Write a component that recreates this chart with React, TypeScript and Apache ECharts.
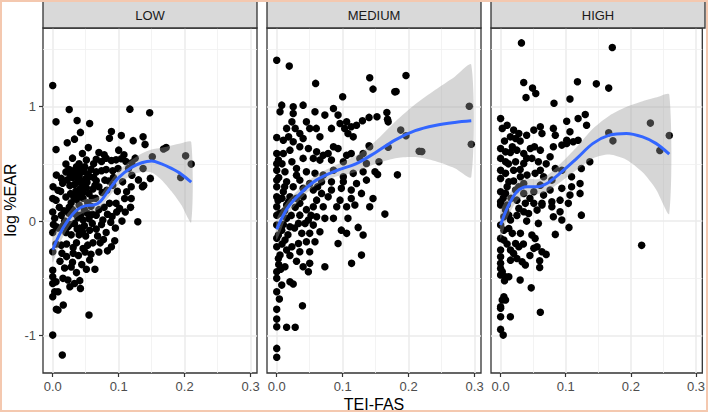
import React, { useEffect, useRef } from "react";
import * as echarts from "echarts";

const panelNames = ["LOW", "MEDIUM", "HIGH"];
const xTicks = [0, 0.1, 0.2, 0.3];
const xMinor = [0.05, 0.15, 0.25];
const yTicks = [-1, 0, 1];
const yMinor = [-0.5, 0.5, 1.5];
const xRange = [-0.01475, 0.30975];
const yRange = [-1.327, 1.687];

const lowPoints: number[][] = [
  [0.000, 1.185], [0.025, 0.975], [0.005, 0.867], [0.037, 0.879], [0.056, 0.853], [0.117, 0.978], [0.147, 0.946],
  [0.042, 0.775], [0.033, 0.716], [0.022, 0.684], [0.054, 0.642], [0.005, 0.625], [0.089, 0.782], [0.086, 0.724],
  [0.104, 0.747], [0.122, 0.703], [0.137, 0.736], [0.140, 0.670], [0.045, 0.591], [0.168, 0.630], [0.172, 0.642],
  [0.151, 0.562], [0.2015, 0.570], [0.210, 0.498], [0.194, 0.381], [0.148, 0.373], [0.138, 0.312], [0.137, 0.460],
  [0.020, 0.498], [0.051, 0.533], [0.066, 0.540], [0.074, 0.520], [0.081, 0.550], [0.089, 0.530], [0.096, 0.535],
  [0.104, 0.545], [0.111, 0.520], [0.120, 0.510], [0.0485, 0.474], [0.036, 0.474], [0.0055, 0.402], [0.013, 0.373],
  [0.034, 0.410], [0.040, 0.390], [0.044, 0.430], [0.047, 0.440], [0.053, 0.410], [0.066, 0.430], [0.074, 0.440],
  [0.081, 0.450], [0.091, 0.440], [0.099, 0.460], [0.066, 0.352], [0.079, 0.358], [0.0005, 0.300], [0.008, 0.270],
  [0.026, 0.310], [0.033, 0.320], [0.041, 0.280], [0.046, 0.250], [0.051, 0.290], [0.061, 0.280], [0.091, 0.314],
  [0.106, 0.343], [0.119, 0.300], [0.112, 0.256], [0.136, 0.300], [0.000, 0.198], [0.005, 0.183], [0.020, 0.210],
  [0.028, 0.160], [0.036, 0.190], [0.046, 0.200], [0.053, 0.160], [0.109, 0.198], [0.119, 0.198], [0.086, 0.155],
  [0.096, 0.155], [0.1015, 0.111], [0.003, 0.024], [0.013, 0.052], [0.038, 0.030], [0.046, 0.010], [0.055, 0.020],
  [0.066, 0.052], [0.076, 0.009], [0.129, -0.006], [0.0055, -0.050], [0.001, -0.030], [0.008, -0.060], [0.016, -0.040],
  [0.026, -0.030], [0.033, -0.020], [0.041, -0.060], [0.048, -0.040], [0.056, -0.080], [0.066, -0.070], [0.074, -0.030],
  [0.081, -0.100], [0.088, -0.010], [0.094, -0.172], [0.089, -0.224], [0.013, -0.210], [0.021, -0.200], [0.031, -0.230],
  [0.036, -0.190], [0.046, -0.240], [0.053, -0.210], [0.061, -0.190], [0.072, -0.190], [0.000, -0.268], [0.014, -0.280],
  [0.021, -0.310], [0.031, -0.280], [0.039, -0.300], [0.049, -0.270], [0.056, -0.340], [0.000, -0.430], [0.000, -0.486],
  [0.018, -0.410], [0.028, -0.400], [0.036, -0.450], [0.051, -0.420], [0.064, -0.420], [0.000, -0.545], [0.005, -0.530],
  [0.0155, -0.500], [0.023, -0.515], [0.026, -0.574], [0.033, -0.545], [0.041, -0.520], [0.042, -0.588], [0.003, -0.617],
  [0.008, -0.617], [0.000, -0.660], [0.008, -0.777], [0.016, -0.733], [0.0055, -0.770], [0.055, -0.820], [0.000, -0.996],
  [0.0145, -1.170], [0.025, 0.45], [0.030, 0.38], [0.038, 0.35], [0.043, 0.33], [0.050, 0.37], [0.058, 0.45],
  [0.062, 0.38], [0.070, 0.30], [0.075, 0.25], [0.082, 0.27], [0.085, 0.35], [0.092, 0.38], [0.098, 0.26],
  [0.027, 0.24], [0.035, 0.26], [0.040, 0.14], [0.048, 0.10], [0.058, 0.13], [0.065, 0.20], [0.070, 0.10],
  [0.078, 0.12], [0.083, 0.06], [0.090, 0.04], [0.097, 0.08], [0.010, 0.12], [0.017, 0.09], [0.024, 0.07],
  [0.030, 0.10], [0.060, -0.02], [0.068, -0.13], [0.077, -0.16], [0.083, -0.26], [0.020, -0.10], [0.028, -0.12],
  [0.040, -0.12], [0.050, -0.13], [0.030, -0.36], [0.044, -0.38], [0.058, -0.29], [0.070, -0.27], [0.011, -0.35],
  [0.005, -0.20], [0.000, -0.10], [0.000, 0.08], [0.012, 0.26], [0.015, 0.33], [0.020, 0.43], [0.030, 0.55],
  [0.040, 0.50], [0.062, 0.50], [0.070, 0.60], [0.078, 0.58], [0.100, 0.62], [0.108, 0.58], [0.115, 0.46],
  [0.120, 0.40], [0.125, 0.55], [0.130, 0.36], [0.110, 0.08], [0.105, 0.00], [0.118, 0.12], [0.095, -0.06],
  [0.022, 0.36], [0.027, 0.40], [0.031, 0.44], [0.036, 0.42], [0.039, 0.36], [0.042, 0.46], [0.047, 0.35],
  [0.052, 0.34], [0.056, 0.39], [0.043, 0.22], [0.048, 0.29], [0.038, 0.24], [0.032, 0.21], [0.025, 0.12],
  [0.035, 0.06], [0.042, 0.05], [0.052, 0.07], [0.060, 0.06], [0.045, -0.09], [0.037, -0.07], [0.023, -0.05],
  [0.018, 0.00], [0.055, 0.24], [0.060, 0.20], [0.064, 0.31],
];

const mediumPoints: number[][] = [
  [0.000, 1.406], [0.019, 1.354], [0.059, 1.203], [0.141, 1.252], [0.146, 1.153], [0.179, 1.129], [0.100, 1.086],
  [0.196, 1.272], [0.181, 1.133], [0.292, 1.004], [0.295, 0.672], [0.216, 0.611], [0.220, 0.608], [0.188, 0.795],
  [0.196, 0.745], [0.169, 0.646], [0.183, 0.404], [0.153, 0.408], [0.140, 0.658], [0.155, 0.518], [0.167, 0.949],
  [0.168, 0.890], [0.152, 0.911], [0.140, 0.906], [0.130, 0.876],
  [0.0076, 1.013], [0.005, 0.955], [0.025, 0.998], [0.025, 0.940], [0.040, 1.013], [0.058, 0.955], [0.073, 0.926],
  [0.086, 0.984], [0.093, 0.926], [0.106, 0.867], [0.096, 0.853],
  [0.023, 0.867], [0.045, 0.867], [0.050, 0.810], [0.060, 0.810], [0.028, 0.810], [0.015, 0.810], [0.018, 0.736],
  [0.035, 0.766], [0.040, 0.722], [0.0655, 0.736], [0.083, 0.810], [0.103, 0.810], [0.113, 0.824], [0.121, 0.838],
  [0.169, 0.867], [0.116, 0.736], [0.108, 0.766],
  [0.000, 0.591], [0.010, 0.591], [0.020, 0.620], [0.035, 0.649], [0.048, 0.635], [0.0605, 0.605], [0.0705, 0.576],
  [0.078, 0.591], [0.086, 0.649], [0.093, 0.635], [0.106, 0.576], [0.113, 0.591], [0.131, 0.591], [0.141, 0.649],
  [0.010, 0.707], [0.025, 0.693], [0.0025, 0.533], [0.023, 0.518], [0.040, 0.548], [0.0555, 0.548], [0.0655, 0.533],
  [0.083, 0.533], [0.101, 0.518], [0.126, 0.548], [0.136, 0.504],
  [0.000, 0.445], [0.0125, 0.431], [0.030, 0.460], [0.045, 0.431], [0.058, 0.417], [0.0705, 0.402], [0.086, 0.445],
  [0.101, 0.387], [0.116, 0.417], [0.131, 0.431], [0.149, 0.431], [0.000, 0.358], [0.015, 0.343], [0.035, 0.358],
  [0.050, 0.329], [0.068, 0.343], [0.083, 0.343], [0.101, 0.343], [0.121, 0.329], [0.136, 0.358],
  [0.000, 0.300], [0.010, 0.256], [0.025, 0.300], [0.040, 0.286], [0.0555, 0.271], [0.068, 0.242], [0.083, 0.271],
  [0.098, 0.286], [0.113, 0.271], [0.1285, 0.242], [0.000, 0.212], [0.020, 0.212], [0.040, 0.212], [0.0605, 0.183],
  [0.078, 0.212], [0.096, 0.183], [0.113, 0.198], [0.146, 0.198], [0.000, 0.125], [0.015, 0.140], [0.035, 0.155],
  [0.0555, 0.125], [0.0705, 0.125], [0.091, 0.125], [0.106, 0.125], [0.1185, 0.140], [0.141, 0.125], [0.164, 0.061],
  [0.000, 0.052], [0.015, 0.024], [0.035, 0.052], [0.048, 0.009], [0.0605, 0.038], [0.073, 0.024], [0.086, 0.024],
  [0.108, 0.024], [0.000, -0.035], [0.0076, -0.079], [0.020, -0.050], [0.033, -0.020], [0.043, -0.020], [0.0555, -0.035],
  [0.0655, -0.093], [0.050, -0.107], [0.038, -0.107], [0.098, -0.079], [0.106, -0.107], [0.1235, -0.055], [0.131, -0.122],
  [0.093, -0.195], [0.058, -0.181], [0.045, -0.181], [0.033, -0.195], [0.023, -0.224], [0.0125, -0.166], [0.0025, -0.122],
  [0.000, -0.224], [0.0025, -0.326], [0.005, -0.297], [0.015, -0.253], [0.035, -0.268], [0.050, -0.268], [0.040, -0.399],
  [0.048, -0.443], [0.050, -0.369], [0.073, -0.399], [0.1135, -0.369], [0.1285, -0.297], [0.0125, -0.399], [0.000, -0.443],
  [0.0076, -0.559], [0.000, -0.617], [0.020, -0.530], [0.025, -0.550], [0.000, -0.771], [0.039, -0.740], [0.000, -0.856],
  [0.000, -0.923], [0.015, -0.928], [0.028, -0.928], [0.000, -1.112], [0.000, -1.190],
  [0.000, 0.730], [0.000, 0.500], [0.003, 0.380], [0.002, 0.180], [0.000, -0.150], [0.003, -0.380], [0.000, -0.500],
  [0.004, -0.680], [0.005, 0.07], [0.008, 0.20], [0.012, 0.09], [0.018, 0.17], [0.022, 0.05], [0.028, 0.12],
  [0.030, 0.20], [0.010, -0.03], [0.017, -0.12], [0.027, -0.06], [0.008, -0.20], [0.020, -0.30], [0.030, -0.35],
  [0.006, -0.42], [0.045, 0.10], [0.052, 0.05], [0.062, 0.30], [0.012, 0.30], [0.030, 0.40], [0.008, 0.50],
];

const highPoints: number[][] = [
  [0.032, 1.557], [0.1715, 1.517], [0.0355, 1.211], [0.049, 1.162], [0.054, 1.115], [0.039, 1.080], [0.118, 1.217],
  [0.147, 1.199], [0.166, 1.162], [0.082, 1.030], [0.1065, 1.066], [0.230, 0.856], [0.259, 0.748], [0.2445, 0.617],
  [0.166, 0.771], [0.1725, 0.701], [0.130, 0.932], [0.132, 0.838], [0.119, 0.897], [0.1015, 0.873], [0.2166, -0.212],
  [0.124, 0.052], [0.105, -0.055], [0.084, -0.116], [0.070, -0.291], [0.060, -0.347], [0.060, -0.405], [0.047, -0.583],
  [0.061, -0.797], [0.030, -0.515], [0.015, -0.836], [0.004, -0.996], [0.000, -0.946], [0.0025, -0.690], [0.000, -0.762],
  [0.006, -0.521], [0.000, -0.470],
  [0.000, 0.897], [0.010, 0.838], [0.0026, 0.810], [0.020, 0.795], [0.028, 0.766], [0.015, 0.736], [0.023, 0.722],
  [0.051, 0.795], [0.061, 0.824], [0.0635, 0.766], [0.081, 0.810], [0.084, 0.751], [0.1065, 0.780], [0.1015, 0.707],
  [0.1115, 0.693], [0.119, 0.707],
  [0.000, 0.635], [0.0076, 0.605], [0.018, 0.649], [0.025, 0.620], [0.0355, 0.591], [0.0457, 0.635], [0.061, 0.620],
  [0.076, 0.562], [0.048, 0.548], [0.058, 0.518], [0.081, 0.649], [0.094, 0.664], [0.1015, 0.679], [0.000, 0.548],
  [0.0076, 0.518], [0.023, 0.518], [0.0355, 0.504],
  [0.000, 0.445], [0.0076, 0.417], [0.020, 0.445], [0.0304, 0.387], [0.0406, 0.402], [0.053, 0.417], [0.061, 0.445],
  [0.066, 0.387], [0.084, 0.460], [0.094, 0.445], [0.000, 0.373], [0.0126, 0.343], [0.0355, 0.329], [0.061, 0.314],
  [0.0787, 0.358], [0.109, 0.387], [0.124, 0.460], [0.137, 0.518],
  [0.000, 0.256], [0.0076, 0.242], [0.023, 0.271], [0.0355, 0.242], [0.051, 0.256], [0.076, 0.271], [0.094, 0.286],
  [0.109, 0.300], [0.122, 0.329], [0.1065, 0.227], [0.122, 0.242], [0.000, 0.169], [0.010, 0.140], [0.025, 0.183],
  [0.038, 0.155], [0.051, 0.155], [0.066, 0.227], [0.0787, 0.169], [0.0913, 0.183], [0.0635, 0.140], [0.0787, 0.125],
  [0.104, 0.155],
  [0.000, 0.140], [0.0076, 0.096], [0.005, 0.038], [0.0126, 0.052], [0.0152, 0.009], [0.028, 0.111], [0.0355, 0.081],
  [0.043, 0.067], [0.056, 0.096], [0.0635, 0.155], [0.0913, 0.081], [0.081, 0.038], [0.094, 0.009], [0.058, -0.020],
  [0.000, -0.035], [0.005, -0.079], [0.0126, -0.064], [0.018, -0.107], [0.000, -0.151], [0.005, -0.166], [0.023, -0.195],
  [0.0304, -0.107], [0.028, -0.224], [0.048, -0.122], [0.053, -0.151], [0.051, -0.238], [0.056, -0.224], [0.0635, -0.268],
  [0.0152, -0.253], [0.020, -0.282],
  [0.000, -0.253], [0.000, -0.312], [0.000, -0.369], [0.000, -0.413], [0.0026, -0.443], [0.0152, -0.341], [0.025, -0.326],
  [0.033, -0.355], [0.038, -0.384], [0.0076, -0.486], [0.0126, -0.486], [0.005, -0.661], [0.0076, -0.690], [0.000, -0.748],
  [0.000, -0.836], [0.004, 0.20], [0.010, 0.30], [0.016, 0.20], [0.020, 0.35], [0.028, 0.30], [0.030, 0.45],
  [0.040, 0.55], [0.045, 0.20], [0.012, 0.50], [0.015, 0.60], [0.006, 0.70], [0.030, 0.70], [0.040, 0.75],
  [0.052, 0.65], [0.070, 0.50], [0.025, 0.05], [0.040, 0.00], [0.010, -0.20], [0.035, -0.20], [0.045, -0.30],
];

const lowFitX = [0, 0.01, 0.02, 0.035, 0.05, 0.062, 0.072, 0.085, 0.1, 0.12, 0.135, 0.15, 0.165, 0.18, 0.195, 0.21];
const lowFit = [-0.25, -0.12, -0.02, 0.09, 0.135, 0.14, 0.17, 0.27, 0.38, 0.47, 0.51, 0.525, 0.5, 0.46, 0.41, 0.34];
const lowSE = [0.11, 0.085, 0.07, 0.06, 0.055, 0.055, 0.055, 0.06, 0.06, 0.065, 0.08, 0.1, 0.14, 0.2, 0.27, 0.35];

const mediumFitX = [0, 0.016, 0.036, 0.06, 0.09, 0.12, 0.15, 0.18, 0.21, 0.24, 0.27, 0.295];
const mediumFit = [-0.073, 0.111, 0.242, 0.358, 0.44, 0.5, 0.6, 0.71, 0.79, 0.835, 0.862, 0.876];
const mediumSE = [0.09, 0.06, 0.05, 0.045, 0.05, 0.07, 0.1, 0.16, 0.23, 0.31, 0.4, 0.49];

const highFitX = [0, 0.01, 0.025, 0.041, 0.056, 0.071, 0.091, 0.117, 0.142, 0.167, 0.193, 0.218, 0.2385, 0.259];
const highFit = [-0.035, 0.111, 0.256, 0.3, 0.3, 0.329, 0.417, 0.548, 0.679, 0.751, 0.766, 0.736, 0.679, 0.585];
const highSE = [0.12, 0.09, 0.08, 0.07, 0.065, 0.07, 0.08, 0.1, 0.13, 0.17, 0.23, 0.31, 0.4, 0.52];

const panelPoints = [lowPoints, mediumPoints, highPoints];
const panelFitX = [lowFitX, mediumFitX, highFitX];
const panelFit = [lowFit, mediumFit, highFit];
const panelSE = [lowSE, mediumSE, highSE];

const FONT = '"Liberation Sans", Arial, Helvetica, sans-serif';
const GRID_LEFT = [43, 267, 491];
const GRID_W = 214;
const GRID_TOP = 28;
const GRID_H = 345;

export default function App() {
  const ref = useRef<HTMLDivElement>(null);
  useEffect(() => {
    if (!ref.current) return;
    const chart = echarts.init(ref.current, null, { renderer: "svg" });

    const grids = GRID_LEFT.map((l) => ({
      left: l,
      top: GRID_TOP,
      width: GRID_W,
      height: GRID_H,
      show: true,
      borderColor: "#333333",
      borderWidth: 1.3,
      backgroundColor: "transparent",
    }));

    const xAxes = GRID_LEFT.map((_, i) => ({
      type: "value",
      gridIndex: i,
      min: xRange[0],
      max: xRange[1],
      axisLine: { show: false, onZero: false },
      axisTick: { show: true, length: 4, customValues: xTicks, lineStyle: { color: "#333333", width: 1.2 } },
      axisLabel: {
        show: true,
        customValues: xTicks,
        margin: 7,
        color: "#4D4D4D",
        fontSize: 13,
        fontFamily: FONT,
        formatter: (v: number) => v.toFixed(1),
      },
      splitLine: { show: false },
    }));

    const yAxes = GRID_LEFT.map((_, i) => ({
      type: "value",
      gridIndex: i,
      min: yRange[0],
      max: yRange[1],
      axisLine: { show: false, onZero: false },
      axisTick: { show: i === 0, length: 4, customValues: yTicks, lineStyle: { color: "#333333", width: 1.2 } },
      axisLabel: {
        show: i === 0,
        customValues: yTicks,
        margin: 7,
        color: "#4D4D4D",
        fontSize: 13,
        fontFamily: FONT,
        formatter: (v: number) => String(Math.round(v)),
      },
      splitLine: { show: false },
    }));

    const gridLineData = [
      ...xTicks.map((v) => ({ xAxis: v, lineStyle: { color: "#EBEBEB", width: 1.5, type: "solid" } })),
      ...xMinor.map((v) => ({ xAxis: v, lineStyle: { color: "#F0F0F0", width: 0.8, type: "solid" } })),
      ...yTicks.map((v) => ({ yAxis: v, lineStyle: { color: "#EBEBEB", width: 1.5, type: "solid" } })),
      ...yMinor.map((v) => ({ yAxis: v, lineStyle: { color: "#F0F0F0", width: 0.8, type: "solid" } })),
    ];

    const series: any[] = [];
    panelPoints.forEach((pts, i) => {
      const fx = panelFitX[i];
      const fy = panelFit[i];
      const se = panelSE[i];
      series.push({
        type: "scatter",
        xAxisIndex: i,
        yAxisIndex: i,
        data: pts,
        symbolSize: 7.5,
        itemStyle: { color: "#000000", opacity: 1 },
        z: 2,
        silent: true,
        markLine: {
          silent: true,
          z: 1,
          symbol: ["none", "none"],
          label: { show: false },
          emphasis: { disabled: true },
          data: gridLineData,
        },
      });
      series.push({
        type: "custom",
        xAxisIndex: i,
        yAxisIndex: i,
        z: 3,
        silent: true,
        data: [[fx[0], fy[0]]],
        renderItem: (params: any, api: any) => {
          const up = fx.map((x, j) => api.coord([x, fy[j] + se[j]]));
          const lo = fx.map((x, j) => api.coord([x, fy[j] - se[j]])).reverse();
          return {
            type: "group",
            children: [
              {
                type: "polygon",
                shape: { points: up.concat(lo), smooth: 0.25 },
                style: { fill: "rgba(153,153,153,0.4)", stroke: "none" },
              },
            ],
          };
        },
      });
      series.push({
        type: "line",
        xAxisIndex: i,
        yAxisIndex: i,
        data: fx.map((x, j) => [x, fy[j]]),
        smooth: 0.35,
        symbol: "none",
        z: 4,
        silent: true,
        lineStyle: { color: "#3366FF", width: 3 },
      });
    });

    const graphics: any[] = [];
    GRID_LEFT.forEach((l, i) => {
      graphics.push({
        type: "rect",
        shape: { x: l, y: 1, width: GRID_W, height: 27 },
        style: { fill: "#D9D9D9", stroke: "#333333", lineWidth: 1.3 },
        z: 10,
      });
      graphics.push({
        type: "text",
        x: l + GRID_W / 2,
        y: 15,
        style: {
          text: panelNames[i],
          font: `13px ${FONT}`,
          fill: "#1A1A1A",
          align: "center",
          verticalAlign: "middle",
        },
        z: 11,
      });
    });
    graphics.push({
      type: "text",
      x: 374,
      y: 404,
      style: { text: "TEI-FAS", font: `16px ${FONT}`, fill: "#000000", align: "center", verticalAlign: "middle" },
    });
    graphics.push({
      type: "text",
      x: 10,
      y: 200,
      rotation: Math.PI / 2,
      style: { text: "log %EAR", font: `16px ${FONT}`, fill: "#000000", align: "center", verticalAlign: "middle" },
    });
    graphics.push({
      type: "rect",
      shape: { x: 1, y: 1, width: 706, height: 410 },
      style: { fill: "none", stroke: "#F4C8AF", lineWidth: 2 },
      z: 20,
    });

    chart.setOption({
      animation: false,
      backgroundColor: "#FFFFFF",
      grid: grids,
      xAxis: xAxes,
      yAxis: yAxes,
      series,
      graphic: graphics,
    });
    return () => chart.dispose();
  }, []);

  return (
    <div
      ref={ref}
      style={{ position: "fixed", left: 0, top: 0, width: 708, height: 412 }}
    />
  );
}
